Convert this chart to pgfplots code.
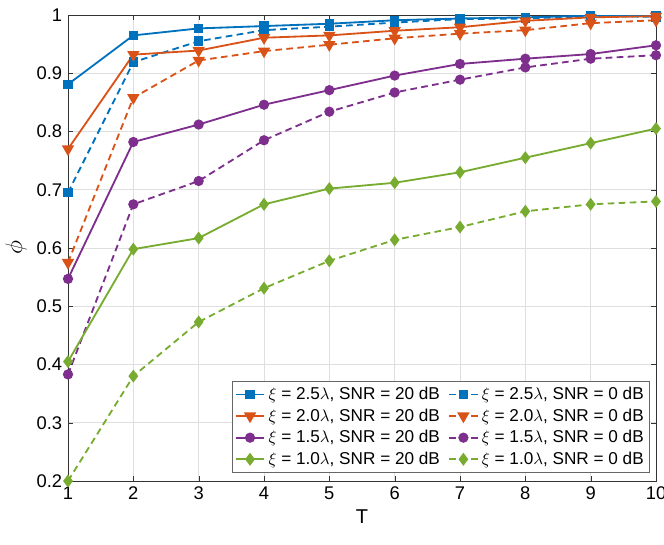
\documentclass[border=0pt]{standalone}
\usepackage{pgfplots}
\pgfplotsset{compat=1.18}
\usepackage{fontspec}
\setmainfont{Liberation Sans}
\definecolor{mblue}{rgb}{0,0.447,0.741}
\definecolor{morange}{rgb}{0.85,0.325,0.098}
\definecolor{mpurple}{rgb}{0.494,0.184,0.556}
\definecolor{mgreen}{rgb}{0.466,0.674,0.188}
\begin{document}
\begin{tikzpicture}
\begin{axis}[
  scale only axis, width=352.8pt, height=279.6pt,
  xmin=1, xmax=10, ymin=0.2, ymax=1,
  xtick={1,...,10}, ytick={0.2,0.3,...,1.01},
  yticklabel style={/pgf/number format/fixed,/pgf/number format/precision=1},
  /pgf/number format/assume math mode=true,
  tick align=inside, tick pos=both,
  major tick length=3pt,
  grid=major, grid style={gray!25, line width=0.4pt},
  axis line style={black!80, line width=0.5pt},
  tick style={black!80},
  ticklabel style={font=\fontsize{11}{13}\selectfont},
  xlabel={T}, ylabel={$\phi$},
  label style={font=\fontsize{12}{14}\selectfont},
  ylabel style={font=\fontsize{14}{16}\selectfont, yshift=-1pt},
  xlabel style={yshift=1pt},
  legend columns=2,
  legend style={at={(1,0)}, anchor=south east, xshift=-3.6pt, yshift=4.8pt,
    font=\fontsize{10.3}{12}\selectfont, draw=black!60, line width=0.5pt,
    inner sep=1.5pt, row sep=0pt, /tikz/every even column/.append style={column sep=3pt}},
  legend cell align=left,
  every axis plot/.append style={line width=1.1pt},
  dashstyle/.style={dash pattern=on 4pt off 2.6pt},
]
\addplot[mblue, mark=square*, mark size=2.3pt] coordinates {(1,0.881)(2,0.965)(3,0.977)(4,0.981)(5,0.985)(6,0.991)(7,0.994)(8,0.996)(9,0.999)(10,0.999)};
\addplot[mblue, dashstyle, mark=square*, mark size=2.3pt, mark options={solid}] coordinates {(1,0.695)(2,0.919)(3,0.955)(4,0.974)(5,0.980)(6,0.987)(7,0.993)(8,0.994)(9,0.998)(10,0.997)};
\addplot[morange, mark=triangle*, mark size=3.2pt, mark options={rotate=180}] coordinates {(1,0.770)(2,0.932)(3,0.939)(4,0.961)(5,0.965)(6,0.973)(7,0.979)(8,0.990)(9,0.996)(10,0.998)};
\addplot[morange, dashstyle, mark=triangle*, mark size=3.2pt, mark options={solid,rotate=180}] coordinates {(1,0.575)(2,0.858)(3,0.922)(4,0.938)(5,0.949)(6,0.960)(7,0.968)(8,0.974)(9,0.986)(10,0.991)};
\addplot[mpurple, mark=*, mark size=2.5pt] coordinates {(1,0.547)(2,0.782)(3,0.812)(4,0.846)(5,0.871)(6,0.896)(7,0.916)(8,0.925)(9,0.933)(10,0.948)};
\addplot[mpurple, dashstyle, mark=*, mark size=2.5pt, mark options={solid}] coordinates {(1,0.383)(2,0.675)(3,0.715)(4,0.785)(5,0.834)(6,0.867)(7,0.889)(8,0.910)(9,0.925)(10,0.931)};
\addplot[mgreen, mark=diamond*, mark size=3pt] coordinates {(1,0.405)(2,0.598)(3,0.617)(4,0.675)(5,0.702)(6,0.712)(7,0.730)(8,0.755)(9,0.780)(10,0.805)};
\addplot[mgreen, dashstyle, mark=diamond*, mark size=3pt, mark options={solid}] coordinates {(1,0.200)(2,0.380)(3,0.473)(4,0.531)(5,0.578)(6,0.614)(7,0.636)(8,0.663)(9,0.675)(10,0.680)};
\legend{{$\xi$ = 2.5$\lambda$, SNR = 20 dB}, {$\xi$ = 2.5$\lambda$, SNR = 0 dB},
  {$\xi$ = 2.0$\lambda$, SNR = 20 dB}, {$\xi$ = 2.0$\lambda$, SNR = 0 dB},
  {$\xi$ = 1.5$\lambda$, SNR = 20 dB}, {$\xi$ = 1.5$\lambda$, SNR = 0 dB},
  {$\xi$ = 1.0$\lambda$, SNR = 20 dB}, {$\xi$ = 1.0$\lambda$, SNR = 0 dB}}
\end{axis}
\pgfresetboundingbox
\path (-40.8pt,-37.8pt) rectangle (357.6pt,288.6pt);
\end{tikzpicture}
\end{document}
